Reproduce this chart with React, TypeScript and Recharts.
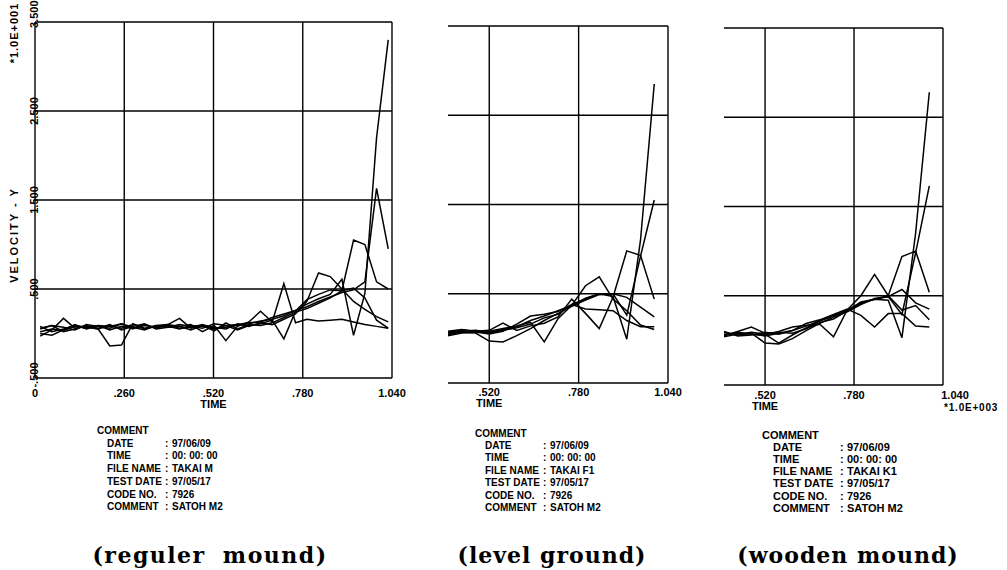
import React from 'react';
import { LineChart, Line, XAxis, YAxis, CartesianGrid, ReferenceLine } from 'recharts';

// ---------- data (time in ms, velocity in m/s) ----------
const P1_TIME = [15, 49, 83, 116, 150, 184, 218, 252, 285, 319, 353, 387, 421, 454, 488, 522, 556, 590, 623, 657, 691, 725, 759, 792, 826, 860, 894, 928, 961, 995, 1029];
const P1_A = [0.2, 0.5, 0.3, 0.8, 0.6, 0.9, 0.4, 0.8, 0.6, 0.9, 0.7, 0.8, 0.5, 0.9, 0.8, 0.5, 0.9, 1.0, 1.2, 1.3, 1.8, 2.2, 2.6, 3.3, 3.9, 4.4, 6.1, -0.2, 4.5, 22, 33];
const P1_B = [-0.3, 0.4, 1.7, 0.6, 0.8, 0.5, 0.9, 0.6, 1.0, 0.5, 0.8, 0.9, 0.6, 0.7, 1.0, 0.6, 0.7, 0.9, 1.1, 1.4, 1.6, 2.0, 2.6, 3.0, 3.6, 4.1, 4.6, 4.9, 5.8, 16.3, 9.5];
const P1_C = [0.8, 0.2, 0.5, 0.9, 0.7, 0.5, -1.4, -1.3, 1.1, 0.6, 0.9, 0.7, 0.8, 0.4, 0.9, 0.3, 1.2, 0.5, 1.0, 0.9, 1.2, 1.8, 2.4, 2.8, 3.4, 4.0, 4.8, 10.5, 10.0, 5.8, 5.0];
const P1_D = [0.5, 0.9, 0.7, 0.4, 1.0, 0.8, 0.6, 1.1, 0.7, 0.4, 0.9, 1.0, 1.7, 0.6, 0.9, 0.7, 0.5, 1.1, 0.8, 1.2, 1.0, 1.6, 2.2, 3.6, 6.8, 6.4, 5.0, 3.6, 2.7, 1.9, 1.3];
const P1_E = [0.0, -0.2, 0.4, 1.0, 0.5, 0.9, 0.8, 1.1, 0.5, 1.0, 0.6, 1.0, 0.8, 1.0, 0.2, 0.9, -0.8, 0.8, 1.3, 2.5, 1.3, 5.6, 1.2, 1.6, 1.4, 1.5, 1.6, 1.3, 1.0, 0.8, 0.6];
const P1_F = [0.6, 0.9, 0.2, 0.5, 0.9, 0.6, 1.0, 0.4, 0.8, 1.1, 0.5, 0.7, 1.0, 0.8, 0.6, 1.1, 0.9, 0.4, 0.9, 1.1, 1.5, -0.6, 2.5, 3.8, 4.4, 4.9, 4.8, 5.1, 4.0, 1.5, 0.6];

const P2_TIME = [400, 440, 480, 520, 560, 600, 640, 680, 720, 760, 800, 840, 880, 920, 960, 1000];
const P2_A = [0.6, 0.9, 0.8, 0.6, 0.9, 1.2, 1.6, 2.3, 2.7, 3.8, 4.4, 5.0, 4.7, -0.1, 11.0, 28.5];
const P2_B = [0.4, 0.7, 0.6, -0.3, -0.4, 0.3, 1.1, 2.0, 2.8, 3.6, 4.3, 4.9, 5.0, 2.6, 9.2, 15.5];
const P2_C = [0.8, 1.0, 0.8, 0.9, 1.7, 0.9, 1.4, 1.7, 2.4, 4.4, 2.8, 1.1, 4.6, 9.8, 9.3, 4.4];
const P2_D = [0.7, 0.9, 0.8, 0.8, 1.1, 1.4, 1.8, -0.4, 2.2, 3.7, 5.9, 6.9, 4.4, 3.1, 1.5, 1.0];
const P2_E = [0.3, 0.6, 0.7, 0.5, 0.8, 1.6, 2.5, 2.7, 3.0, 3.8, 3.3, 3.2, 3.1, 2.0, 1.3, 1.3];
const P2_F = [0.5, 0.8, 0.9, 0.7, 1.0, 1.3, 2.0, 2.5, 3.1, 3.7, 4.5, 5.0, 5.0, 4.6, 3.5, 2.4];

const P3_TIME = [400, 440, 480, 520, 560, 600, 640, 680, 720, 760, 800, 840, 880, 920, 960, 1000];
const P3_A = [0.6, 0.9, 0.7, 0.5, 0.8, 1.1, 1.6, 2.2, 2.8, 3.3, 4.1, 4.6, 4.5, 0.3, 12.0, 27.8];
const P3_B = [0.9, 0.6, 0.8, -0.3, -0.4, 0.2, 1.1, 1.9, 2.6, 3.2, 4.0, 4.7, 4.9, 2.9, 9.8, 17.3];
const P3_C = [0.5, 1.0, 1.5, 0.8, 0.9, 0.8, 1.3, 2.0, 2.4, 3.3, 4.3, 4.6, 5.0, 9.4, 10.0, 5.4];
const P3_D = [0.7, 0.8, 0.7, 0.6, 1.0, 1.5, 1.7, 1.8, 0.4, 3.4, 5.0, 7.4, 5.0, 3.4, 3.9, 2.3];
const P3_E = [0.4, 0.7, 0.9, 0.7, -0.3, 0.6, 1.4, 2.2, 2.7, 3.4, 4.2, 4.6, 4.9, 5.7, 4.2, 3.5];
const P3_F = [1.0, 0.5, 0.6, 0.9, 0.7, 1.1, 1.9, 2.3, 2.9, 3.5, 2.8, 1.5, 3.0, 3.0, 1.6, 1.5];

const X_TICKS_FULL = [0, 260, 520, 780, 1040];
const X_TICKS_PART = [520, 780, 1040];
const Y_TICKS = [-5, 5, 15, 25, 35];
const X_TICK_LABELS: Record<number, string> = { 0: '0', 260: '.260', 520: '.520', 780: '.780', 1040: '1.040' };
const Y_TICK_LABELS: Record<number, string> = { [-5]: '-.500', 5: '.500', 15: '1.500', 25: '2.500', 35: '3.500' };

const COMMENT_LABELS = ['DATE', 'TIME', 'FILE NAME', 'TEST DATE', 'CODE NO.', 'COMMENT'];
const COMMENT_VALUES_1 = ['97/06/09', '00: 00: 00', 'TAKAI M', '97/05/17', '7926', 'SATOH M2'];
const COMMENT_VALUES_2 = ['97/06/09', '00: 00: 00', 'TAKAI F1', '97/05/17', '7926', 'SATOH M2'];
const COMMENT_VALUES_3 = ['97/06/09', '00: 00: 00', 'TAKAI K1', '97/05/17', '7926', 'SATOH M2'];
const CAPTIONS = ['(reguler mound)', '(level ground)', '(wooden mound)'];

const SERIES_KEYS = ['a', 'b', 'c', 'd', 'e', 'f'];

function buildRows(times: number[], series: number[][]) {
  return times.map((t, i) => {
    const row: Record<string, number> = { t };
    series.forEach((s, k) => {
      row[SERIES_KEYS[k]] = s[i];
    });
    return row;
  });
}

const DATA_1 = buildRows(P1_TIME, [P1_A, P1_B, P1_C, P1_D, P1_E, P1_F]);
const DATA_2 = buildRows(P2_TIME, [P2_A, P2_B, P2_C, P2_D, P2_E, P2_F]);
const DATA_3 = buildRows(P3_TIME, [P3_A, P3_B, P3_C, P3_D, P3_E, P3_F]);

const SANS = '"Liberation Sans", Arial, sans-serif';
const SERIF = '"DejaVu Serif", serif';

type PanelProps = {
  left: number;
  width: number;
  height: number;
  margin: { top: number; right: number; bottom: number; left: number };
  yWidth: number;
  xHeight: number;
  data: Record<string, number>[];
  xDomain: [number, number];
  xTicks: number[];
  yLabels: boolean;
  xBaseline: number;
  timeBaseline: number;
  lastDx: number;
};

function Panel(p: PanelProps) {
  const xTick = (props: any) => {
    const v = props.payload.value as number;
    const dx = v === 1040 ? p.lastDx : 0;
    return (
      <g>
        <text x={props.x + dx} y={p.xBaseline} textAnchor="middle" fontFamily={SANS} fontWeight="bold" fontSize={11} fill="#000">
          {X_TICK_LABELS[v]}
        </text>
        {v === 520 ? (
          <text x={props.x} y={p.timeBaseline} textAnchor="middle" fontFamily={SANS} fontWeight="bold" fontSize={11} fill="#000">
            TIME
          </text>
        ) : null}
      </g>
    );
  };
  const yTick = (props: any) => {
    if (!p.yLabels) return <g />;
    const v = props.payload.value as number;
    const y = props.y as number;
    const bx = 38;
    const anchor = v === 35 ? 'start' : 'middle';
    const yy = v === 35 ? y + 6 : v === -5 ? y - 3 : y;
    return (
      <text x={bx} y={yy} transform={`rotate(-90, ${bx}, ${yy})`} textAnchor={anchor} fontFamily={SANS} fontWeight="bold" fontSize={11} fill="#000">
        {Y_TICK_LABELS[v]}
      </text>
    );
  };
  return (
    <div style={{ position: 'absolute', left: p.left, top: 0 }}>
      <LineChart width={p.width} height={p.height} data={p.data} margin={p.margin}>
        <CartesianGrid stroke="#000" strokeWidth={1.4} vertical={false} />
        <XAxis
          dataKey="t"
          type="number"
          domain={p.xDomain}
          ticks={p.xTicks}
          allowDataOverflow
          axisLine={false}
          tickLine={false}
          height={p.xHeight}
          tick={xTick}
          interval={0}
        />
        <YAxis
          type="number"
          domain={[-5, 35]}
          ticks={Y_TICKS}
          allowDataOverflow
          axisLine={false}
          tickLine={false}
          width={p.yWidth}
          tick={yTick}
          interval={0}
        />
        {p.xTicks.map((t) => (
          <ReferenceLine key={'v' + t} x={t} stroke="#000" strokeWidth={1.4} ifOverflow="extendDomain" />
        ))}
        {SERIES_KEYS.map((k) => (
          <Line key={k} dataKey={k} type="linear" stroke="#000" strokeWidth={1.5} dot={false} isAnimationActive={false} />
        ))}
      </LineChart>
    </div>
  );
}

function CommentBlock({ x, labelX, colonX, y0, step, size, values }: { x: number; labelX: number; colonX: number; y0: number; step: number; size: number; values: string[] }) {
  return (
    <g fontFamily={SANS} fontWeight="bold" fontSize={size} fill="#000">
      <text x={x} y={y0}>COMMENT</text>
      {COMMENT_LABELS.map((l, i) => (
        <g key={l}>
          <text x={labelX} y={y0 + step * (i + 1)}>{l}</text>
          <text x={colonX} y={y0 + step * (i + 1)}>:</text>
          <text x={colonX + 7} y={y0 + step * (i + 1)}>{values[i]}</text>
        </g>
      ))}
    </g>
  );
}

export default function App() {
  return (
    <div style={{ position: 'absolute', left: 0, top: 0, width: 1007, height: 570, background: '#fff', overflow: 'hidden' }}>
      <Panel
        left={0}
        width={420}
        height={420}
        margin={{ top: 22, right: 28, bottom: 0, left: 0 }}
        yWidth={35}
        xHeight={42}
        data={DATA_1}
        xDomain={[0, 1040]}
        xTicks={X_TICKS_FULL}
        yLabels
        xBaseline={397}
        timeBaseline={408}
        lastDx={0}
      />
      <Panel
        left={440}
        width={260}
        height={420}
        margin={{ top: 26, right: 32, bottom: 0, left: 0 }}
        yWidth={8}
        xHeight={37}
        data={DATA_2}
        xDomain={[400, 1040]}
        xTicks={X_TICKS_PART}
        yLabels={false}
        xBaseline={396}
        timeBaseline={407}
        lastDx={0}
      />
      <Panel
        left={716}
        width={270}
        height={420}
        margin={{ top: 28, right: 43, bottom: 0, left: 0 }}
        yWidth={8}
        xHeight={35}
        data={DATA_3}
        xDomain={[400, 1040]}
        xTicks={X_TICKS_PART}
        yLabels={false}
        xBaseline={399}
        timeBaseline={410}
        lastDx={12}
      />
      <svg width={1007} height={570} style={{ position: 'absolute', left: 0, top: 0, pointerEvents: 'none' }}>
        <text x={18} y={33} transform="rotate(-90, 18, 33)" textAnchor="middle" fontFamily={SANS} fontWeight="bold" fontSize={11} letterSpacing={1} fill="#000">
          *1.0E+001
        </text>
        <text x={18} y={235} transform="rotate(-90, 18, 235)" textAnchor="middle" fontFamily={SANS} fontWeight="bold" fontSize={11} letterSpacing={2} fill="#000">
          VELOCITY - Y
        </text>
        <text x={944} y={411} fontFamily={SANS} fontWeight="bold" fontSize={10} letterSpacing={0.8} fill="#000">
          *1.0E+003
        </text>
        <CommentBlock x={97} labelX={107} colonX={165} y0={434} step={12.7} size={10} values={COMMENT_VALUES_1} />
        <CommentBlock x={475} labelX={485} colonX={543} y0={436.5} step={12.4} size={10} values={COMMENT_VALUES_2} />
        <CommentBlock x={762} labelX={773} colonX={840} y0={438.5} step={12.2} size={11} values={COMMENT_VALUES_3} />
        <g fontFamily={SERIF} fontWeight="bold" fontSize={22} fill="#000" textAnchor="middle" letterSpacing={1}>
          <text x={210} y={563} wordSpacing={8} letterSpacing={1.5}>{CAPTIONS[0]}</text>
          <text x={552} y={563}>{CAPTIONS[1]}</text>
          <text x={848} y={563}>{CAPTIONS[2]}</text>
        </g>
      </svg>
    </div>
  );
}
